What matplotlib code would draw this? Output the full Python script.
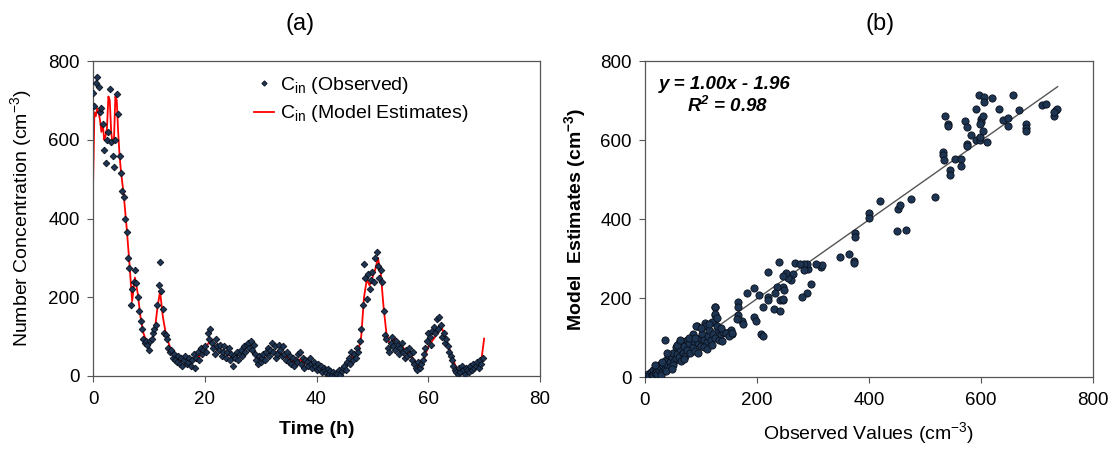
import numpy as np
import matplotlib
matplotlib.use('Agg')
from matplotlib import pyplot as plt

plt.rcParams['font.family'] = ['Liberation Sans', 'DejaVu Sans']
plt.rcParams['mathtext.default'] = 'regular'

# ---- panel (a): observed every 0.25 h ----
obs_c = [720, 685, 745, 760, 735, 670, 680, 640, 575, 540, 600, 620, 730, 595, 560, 530, 600, 715, 665, 560,
         515, 470, 455, 400, 365, 300, 275, 180, 220, 240, 270, 235, 200, 165, 140, 120, 95, 85, 90, 80,
         65, 90, 95, 110, 120, 130, 180, 230, 290, 215, 170, 110, 105, 95, 70, 60, 65, 45, 55, 40,
         35, 50, 30, 45, 25, 40, 50, 30, 35, 45, 25, 40, 55, 20, 45, 60, 40, 70, 55, 65,
         75, 60, 110, 95, 120, 85, 70, 55, 95, 75, 65, 80, 50, 60, 75, 45, 60, 70, 40, 55,
         25, 50, 45, 60, 40, 55, 65, 50, 75, 60, 80, 85, 70, 90, 65, 80, 55, 40, 30, 50,
         35, 45, 55, 40, 60, 70, 50, 65, 85, 60, 75, 45, 55, 80, 65, 50, 75, 55, 40, 60,
         35, 50, 30, 45, 25, 40, 35, 55, 60, 30, 45, 20, 40, 35, 25, 45, 30, 20, 35, 25,
         15, 30, 20, 25, 10, 20, 15, 8, 18, 5, 12, 3, 10, 2, 8, 5, 15, 3, 12, 20,
         25, 15, 35, 45, 30, 60, 40, 55, 45, 70, 60, 90, 120, 180, 285, 250, 195, 260, 220, 245,
         265, 240, 300, 315, 280, 250, 270, 240, 165, 105, 95, 70, 60, 85, 100, 75, 65, 90, 80, 55,
         70, 85, 60, 45, 65, 50, 70, 55, 40, 60, 30, 20, 15, 35, 20, 30, 40, 55, 70, 90,
         110, 100, 80, 115, 125, 110, 145, 120, 150, 130, 100, 110, 85, 95, 75, 60, 50, 40, 25, 15,
         10, 5, 20, 10, 25, 15, 5, 20, 15, 10, 25, 15, 30, 20, 25, 35, 20, 40, 30, 45]
obs_t = np.arange(len(obs_c)) * 0.25

# model: 0.25 h steps up to 5 h, then 0.5 h steps
model_c = [480, 670, 660, 680, 670, 650, 620, 640, 600, 610, 630, 710, 700, 620, 590, 600, 710, 700, 620, 560,
           520, 460, 380, 290, 190, 250, 210, 150, 110, 90,
           85, 90, 110, 170, 215, 150, 110, 85, 65, 55,
           45, 40, 40, 38, 40, 38, 40, 45, 50, 55,
           65, 80, 90, 80, 70, 68, 65, 60, 55, 52,
           48, 50, 55, 62, 68, 75, 78, 70, 55, 45,
           42, 48, 55, 60, 65, 62, 60, 58, 55, 50,
           42, 38, 35, 40, 42, 35, 32, 30, 28, 25,
           22, 20, 17, 13, 10, 8, 6, 6, 8, 14,
           22, 32, 45, 50, 55, 65, 100, 200, 245, 230,
           250, 270, 300, 260, 175, 110, 85, 80, 95, 85,
           80, 72, 65, 60, 50, 40, 25, 18, 30, 55,
           75, 85, 95, 105, 115, 120, 100, 80, 60, 40,
           20, 10, 8, 8, 12, 15, 18, 22, 28, 40,
           95]
model_t = np.concatenate([np.arange(0, 5, 0.25), np.arange(5, 70.01, 0.5)])

# ---- panel (b): observed vs model estimates ----
sc_x = [535, 542, 542, 532, 532, 534, 553, 564, 564, 545, 545, 572, 576, 576, 576, 583, 592, 598, 598, 592,
        596, 601, 601, 603, 598, 603, 606, 606, 611, 620, 633, 640, 649, 649, 658, 668, 680, 680, 680, 709,
        717, 731, 734, 736, 731,
        518, 476, 452, 456, 450, 466, 420, 401, 401, 375, 375, 373, 373, 365, 348, 315, 316, 306, 296, 292,
        290, 281, 290, 284, 268, 277, 284, 265, 260, 255, 252, 246, 239, 219, 246, 249, 236, 233, 220, 220,
        230, 241, 241, 247, 246, 211, 194, 183, 203, 194, 198, 167, 167, 167, 173, 175, 164, 208, 210, 151,
        156, 154, 126, 126, 123, 93, 107,
        2, 5, 8, 10, 12, 15, 15, 18, 20, 20, 22, 25, 25, 28, 30, 30, 33, 35, 35, 38,
        40, 42, 45, 45, 48, 50, 52, 55, 55, 58, 60, 60, 62, 65, 65, 68, 70, 72, 75, 75,
        78, 80, 82, 85, 88, 90, 92, 95, 98, 100, 102, 105, 108, 110, 112, 115, 118, 120, 122, 125,
        125, 125, 128, 130, 132, 135, 138, 140, 145, 150, 155, 30, 40, 50, 58, 70, 85, 95, 105, 115,
        18, 28, 38, 48, 62, 78, 90, 100, 110, 120, 128, 135]
sc_y = [662, 641, 635, 570, 561, 549, 551, 551, 534, 523, 512, 647, 633, 589, 584, 613, 599, 601, 608, 679,
        713, 654, 646, 660, 641, 623, 709, 696, 594, 707, 679, 650, 656, 635, 713, 675, 641, 631, 623, 688,
        690, 662, 675, 679, 671,
        457, 451, 426, 435, 369, 373, 446, 415, 403, 365, 354, 295, 289, 312, 304, 278, 283, 287, 236, 274,
        213, 203, 287, 285, 289, 285, 270, 262, 246, 251, 264, 257, 291, 266, 228, 221, 228, 213, 203, 196,
        173, 166, 196, 194, 198, 177, 226, 213, 207, 152, 143, 190, 177, 156, 143, 133, 148, 110, 105, 114,
        110, 118, 177, 156, 139, 128, 137,
        3, 8, 2, 12, 6, 18, 5, 10, 22, 14, 8, 30, 18, 24, 12, 35, 28, 20, 95, 42,
        30, 55, 38, 25, 50, 62, 40, 75, 48, 58, 85, 50, 70, 40, 90, 62, 78, 52, 95, 68,
        85, 60, 100, 75, 92, 65, 128, 85, 100, 78, 110, 95, 130, 88, 105, 120, 95, 140, 110, 178,
        160, 100, 150, 118, 95, 108, 90, 115, 112, 105, 112, 38, 60, 30, 80, 45, 110, 60, 75, 135,
        30, 5, 15, 20, 95, 100, 100, 125, 72, 82, 130, 125]
slope, intercept = 1.00, -1.96

fig = plt.figure(figsize=(11.1, 4.51), dpi=100)
ax1 = fig.add_axes([0.0838, 0.1663, 0.4027, 0.6984])
ax2 = fig.add_axes([0.581, 0.1640, 0.4036, 0.7007])

mk = dict(color='#1d3553', markeredgecolor='#0a0f1a', markeredgewidth=0.6)

ax1.plot(model_t, model_c, color='#ff0000', lw=1.3, zorder=2,
         label=r'C$_{in}$ (Model Estimates)')
ax1.plot(obs_t, obs_c, 'D', ms=3.4, zorder=3, **mk, label=r'C$_{in}$ (Observed)')
ax1.set_xlim(0, 80)
ax1.set_ylim(0, 800)
ax1.set_xticks([0, 20, 40, 60, 80])
ax1.set_yticks([0, 200, 400, 600, 800])
ax1.set_xlabel('Time (h)', fontsize=14, fontweight='bold', labelpad=10)
ax1.set_ylabel(r'Number Concentration (cm$^{-3}$)', fontsize=14, labelpad=10)
h, l = ax1.get_legend_handles_labels()
ax1.legend(h[::-1], l[::-1], loc='upper left', bbox_to_anchor=(0.33, 1.0), frameon=False,
           fontsize=14, handlelength=1.0, labelspacing=0.4, handletextpad=0.35,
           borderpad=0.2, markerscale=0.8)

ax2.plot(sc_x, sc_y, 'o', ms=5.2, **mk, zorder=3)
fx = np.array([3, 737])
ax2.plot(fx, slope * fx + intercept, color='#555555', lw=1.0, zorder=2)
ax2.set_xlim(0, 800)
ax2.set_ylim(0, 800)
ax2.set_xticks([0, 200, 400, 600, 800])
ax2.set_yticks([0, 200, 400, 600, 800])
ax2.set_xlabel(r'Observed Values (cm$^{-3}$)', fontsize=14, labelpad=8)
ax2.set_ylabel(r'Model  Estimates (cm$^{-3}$)', fontsize=14, fontweight='bold', labelpad=9)
ax2.text(0.03, 0.925, 'y = 1.00x - 1.96', transform=ax2.transAxes, fontsize=13.5,
         fontstyle='italic', fontweight='bold', va='center')
ax2.text(0.095, 0.858, r'R$^{2}$ = 0.98', transform=ax2.transAxes, fontsize=13.5,
         fontstyle='italic', fontweight='bold', va='center')

fig.text(300 / 1110, 1 - 24 / 451, '(a)', fontsize=17, ha='center', va='center')
fig.text(880 / 1110, 1 - 24 / 451, '(b)', fontsize=17, ha='center', va='center')

for ax in (ax1, ax2):
    ax.tick_params(direction='out', length=4.5, width=0.8, labelsize=13.5,
                   color='#555555', labelcolor='black')
    ax.tick_params(axis='x', pad=6)
    ax.tick_params(axis='y', pad=5)
    for s in ax.spines.values():
        s.set_color('#555555')
        s.set_linewidth(0.9)

fig.savefig('out.png', dpi=100)
